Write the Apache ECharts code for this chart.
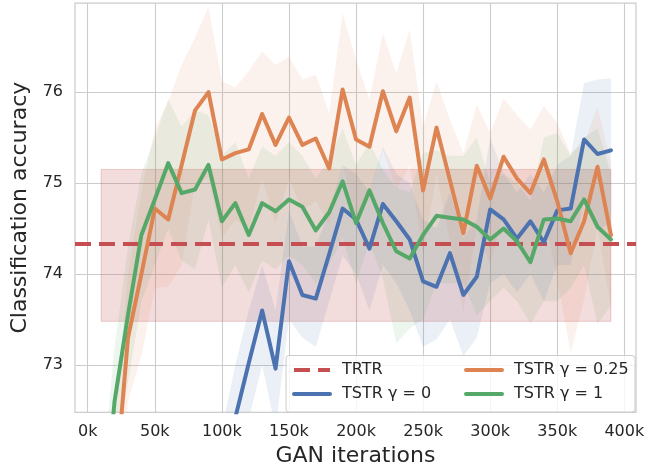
<!DOCTYPE html>
<html>
<head>
<meta charset="utf-8">
<script src="https://cdn.jsdelivr.net/npm/echarts@6/dist/echarts.min.js"></script>
<style>
html,body{margin:0;padding:0;background:#fff;}
#c{width:665px;height:473px;}
</style>
</head>
<body>
<div id="c"></div>
<script>
// GAN iterations (thousands)
const iterations = [10,20,30,40,50,60,70,80,90,100,110,120,130,140,150,160,170,180,190,200,210,220,230,240,250,260,270,280,290,300,310,320,330,340,350,360,370,380,390];
const xTicks = [0,50,100,150,200,250,300,350,400];
const yTicks = [73,74,75,76];

const trtrValue = 74.33;
const trtrBandLow = 73.48;
const trtrBandHigh = 75.15;
const trtrBandStart = 10;
const trtrBandEnd = 390;

// TSTR gamma = 0 (blue)
const g0Mean  = [65.5,66.8,67.9,68.6,69.4,70.0,70.5,70.9,71.2,71.6,72.42,73.02,73.6,72.96,74.14,73.77,73.73,74.22,74.72,74.6,74.28,74.77,74.58,74.38,73.92,73.86,74.23,73.77,73.97,74.71,74.6,74.39,74.58,74.35,74.7,74.72,75.48,75.32,75.36];
const g0Upper = [66.2,67.5,68.6,69.3,70.1,70.7,71.2,71.6,71.9,72.3,73.0,73.6,74.1,73.6,74.7,74.3,74.3,74.7,75.2,75.1,74.9,75.4,75.1,75.0,74.6,74.5,74.9,74.4,74.6,75.5,75.1,74.9,75.1,74.9,75.2,75.3,76.1,76.14,76.15];
const g0Lower = [64.8,66.1,67.2,67.9,68.7,69.3,69.8,70.2,70.5,70.9,71.8,72.4,73.0,72.3,73.5,73.3,73.2,73.7,74.2,74.0,73.6,74.1,73.9,73.6,73.2,73.28,73.5,73.1,73.3,73.9,74.0,73.8,74.0,73.7,74.1,74.1,74.8,74.5,74.55];

// TSTR gamma = 0.25 (orange)
const g025Mean  = [70.0,71.55,73.3,74.0,74.72,74.6,75.2,75.8,76.0,75.26,75.33,75.37,75.76,75.42,75.72,75.42,75.49,75.16,76.03,75.48,75.4,76.01,75.57,75.94,74.92,75.61,75.03,74.45,75.19,74.83,75.29,75.05,74.89,75.26,74.8,74.23,74.58,75.18,74.43];
const g025Upper = [70.6,72.3,74.0,74.9,75.6,75.9,76.3,76.6,76.94,76.12,76.05,76.23,76.45,76.3,76.39,76.14,76.19,75.77,76.87,76.36,75.92,76.65,76.21,76.69,75.62,76.12,75.7,75.33,75.86,75.55,75.93,75.75,75.59,75.85,75.66,75.33,75.44,75.84,75.22];
const g025Lower = [69.4,70.8,72.6,73.1,73.85,73.86,74.1,75.0,75.06,74.4,74.6,74.5,75.05,74.55,75.05,74.7,74.8,74.55,75.2,74.6,74.88,75.37,74.93,75.19,74.22,75.1,74.36,73.57,74.52,74.11,74.65,74.35,74.19,74.67,73.94,73.13,73.72,74.52,73.64];

// TSTR gamma = 1 (green)
const g1Mean  = [71.0,72.6,73.55,74.43,74.82,75.22,74.89,74.93,75.2,74.58,74.78,74.43,74.78,74.69,74.82,74.74,74.48,74.68,75.02,74.56,74.92,74.56,74.25,74.17,74.43,74.64,74.62,74.6,74.52,74.38,74.5,74.36,74.13,74.6,74.61,74.58,74.82,74.52,74.38];
const g1Upper = [71.6,73.2,74.3,75.1,75.5,75.92,75.62,75.8,75.75,75.3,75.45,75.05,75.4,75.3,75.45,75.3,75.05,75.25,75.6,75.2,75.45,75.15,74.95,74.9,75.33,75.36,75.3,75.3,75.5,75.0,75.1,75.0,74.8,75.5,75.55,75.3,75.5,75.6,75.1];
const g1Lower = [70.4,72.0,72.8,73.7,74.1,74.5,74.15,74.05,74.6,73.85,74.1,73.8,74.15,74.05,74.2,74.1,73.9,74.1,74.4,73.9,74.35,73.95,73.24,73.4,73.5,73.9,73.9,73.9,73.55,73.7,73.85,73.7,73.45,73.7,73.7,73.85,74.1,73.45,73.65];

const xMin = -9.5, xMax = 408.7, yMin = 72.48, yMax = 76.98;

const C_BLUE = '#4C72B0', C_ORANGE = '#DD8452', C_GREEN = '#55A868', C_RED = '#C44E52';
const FONT = 'DejaVu Sans';

function pairs(vals){ return iterations.map((x,i)=>[x, vals[i]]); }

// confidence band drawn as one polygon through the cartesian coordinate system
function band(name, up, lo, color){
  const rows = iterations.map((x,i)=>[x, lo[i], up[i]]);
  return {
    name:name, type:'custom', silent:true, clip:true, z:2,
    data:[rows[0]],
    encode:{x:0, y:[1,2]},
    renderItem:function(params, api){
      if (params.dataIndex !== 0) return;
      const pts = [];
      rows.forEach(r=>pts.push(api.coord([r[0], r[2]])));
      for (let i=rows.length-1;i>=0;i--) pts.push(api.coord([rows[i][0], rows[i][1]]));
      const cs = params.coordSys;
      return {type:'polygon', shape:{points:pts}, style:{fill:color, stroke:null},
        clipPath:{type:'rect', shape:{x:cs.x, y:cs.y, width:cs.width, height:cs.height}}};
    }
  };
}

const series = [];
series.push({
  name:'TRTR', type:'line', data:[[xMin, trtrValue],[xMax, trtrValue]], symbol:'none',
  lineStyle:{color:C_RED, width:4, type:[16,8], cap:'butt'}, itemStyle:{color:C_RED}, z:3,
  markArea:{silent:true, itemStyle:{color:'rgba(196,78,82,0.2)', borderColor:'rgba(196,78,82,0.25)', borderWidth:1},
    data:[[{coord:[trtrBandStart, trtrBandLow]},{coord:[trtrBandEnd, trtrBandHigh]}]]}
});
series.push(band('b0', g0Upper, g0Lower, 'rgba(76,114,176,0.11)'));
series.push(band('b025', g025Upper, g025Lower, 'rgba(221,132,82,0.10)'));
series.push(band('b1', g1Upper, g1Lower, 'rgba(85,168,104,0.11)'));
series.push({name:'TSTR γ = 0', type:'line', data:pairs(g0Mean), symbol:'none', lineStyle:{color:C_BLUE, width:4, cap:'round', join:'round'}, itemStyle:{color:C_BLUE}, z:3});
series.push({name:'TSTR γ = 0.25', type:'line', data:pairs(g025Mean), symbol:'none', lineStyle:{color:C_ORANGE, width:4, cap:'round', join:'round'}, itemStyle:{color:C_ORANGE}, z:3});
series.push({name:'TSTR γ = 1', type:'line', data:pairs(g1Mean), symbol:'none', lineStyle:{color:C_GREEN, width:4, cap:'round', join:'round'}, itemStyle:{color:C_GREEN}, z:3});

const legendCommon = {
  orient:'vertical', padding:0, itemWidth:36, itemHeight:14, itemGap:8, z:6,
  itemStyle:{opacity:0},
  lineStyle:{width:4},
  textStyle:{fontFamily:FONT, fontSize:16, color:'#262626', padding:[0,0,0,7]}
};

const chart = echarts.init(document.getElementById('c'), null, {renderer:'canvas'});
chart.setOption({
  animation:false,
  backgroundColor:'#ffffff',
  textStyle:{fontFamily:FONT},
  grid:{left:75, top:3, width:561, height:409.3, show:true, borderColor:'#cccccc', borderWidth:1.25, backgroundColor:'transparent'},
  xAxis:{type:'value', min:xMin, max:xMax,
    name:'GAN iterations', nameLocation:'middle', nameGap:31,
    nameTextStyle:{fontFamily:FONT, fontSize:22, color:'#262626'},
    axisLine:{show:false}, axisTick:{show:false, customValues:xTicks},
    axisLabel:{customValues:xTicks, formatter:v=>v+'k', fontFamily:FONT, fontSize:16, color:'#262626', margin:12},
    splitLine:{show:true, lineStyle:{color:'#cccccc', width:1.1}}},
  yAxis:{type:'value', min:yMin, max:yMax,
    name:'Classification accuracy', nameLocation:'middle', nameGap:29,
    nameTextStyle:{fontFamily:FONT, fontSize:22, color:'#262626'},
    axisLine:{show:false}, axisTick:{show:false, customValues:yTicks},
    axisLabel:{customValues:yTicks, fontFamily:FONT, fontSize:16, color:'#262626', margin:12},
    splitLine:{show:true, lineStyle:{color:'#cccccc', width:1.1}}},
  legend:[
    Object.assign({}, legendCommon, {left:292, top:362, data:['TRTR','TSTR γ = 0']}),
    Object.assign({}, legendCommon, {left:464, top:362, data:['TSTR γ = 0.25','TSTR γ = 1']})
  ],
  graphic:{elements:[{type:'rect', z:4, shape:{x:286, y:355.5, width:349, height:56.5, r:3},
    style:{fill:'rgba(255,255,255,0.8)', stroke:'#cccccc', lineWidth:1}}]},
  series:series
});
</script>
</body>
</html>
